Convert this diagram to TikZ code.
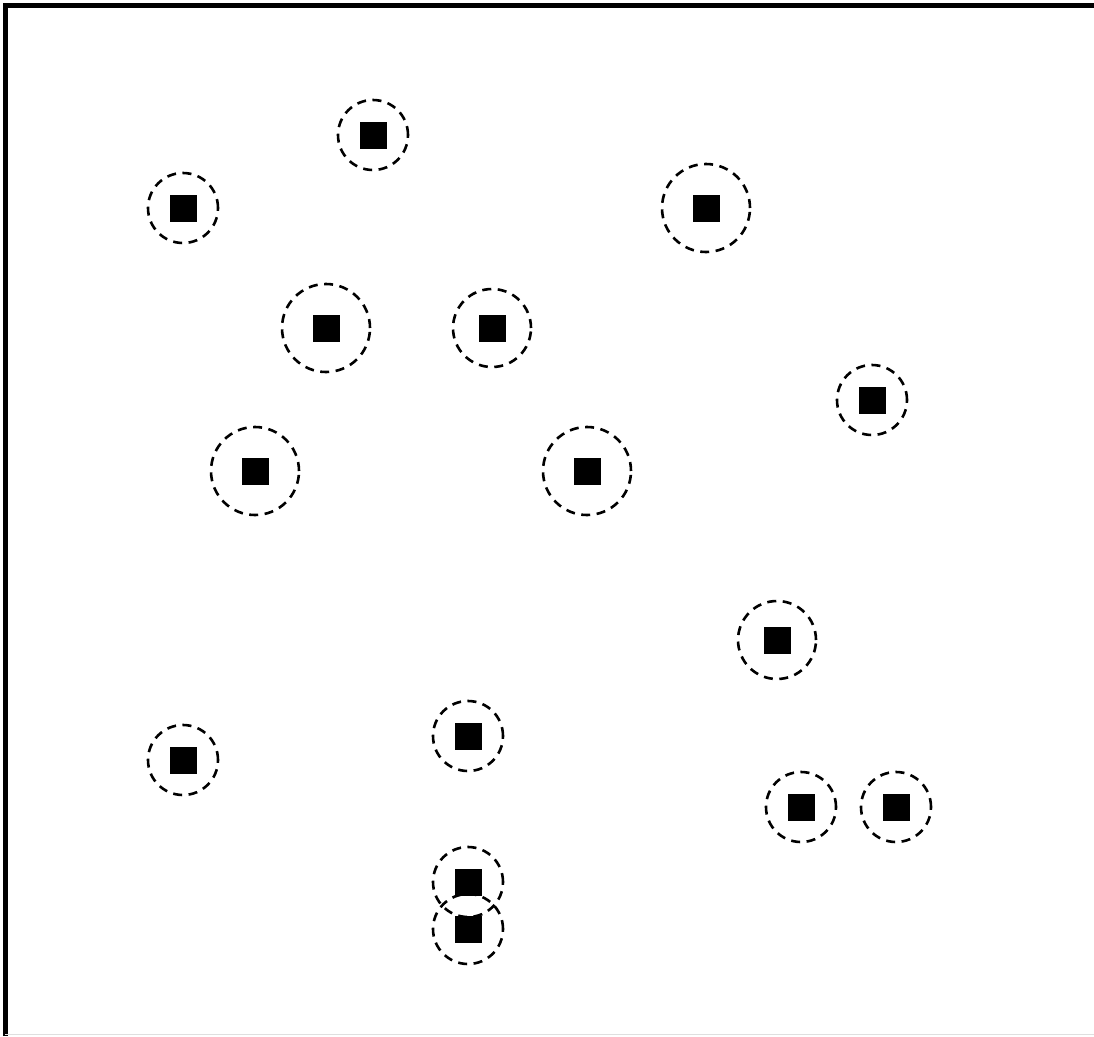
\documentclass[tikz,border=0pt]{standalone}
\begin{document}
\begin{tikzpicture}[x=1pt,y=-1pt,
  sq/.style={fill=black,draw=none,minimum size=27pt,inner sep=0pt,rectangle},
  ring/.style={draw=black,line width=2.6pt,dash pattern=on 9pt off 6.5pt,circle,inner sep=0pt,fill=none}]
\useasboundingbox (0,0) rectangle (1094,1036);
\fill[white] (0,0) rectangle (1094,1036);
% frame
\draw[line width=5pt] (5.5,1036) -- (5.5,5.5) -- (1094,5.5);
\draw[line width=1.5pt,gray!25] (5,1034.5) -- (1094,1034.5);
% points with dashed rings: name/x/y/radius
\foreach \n/\x/\y/\r in {a/373/135/35, b/183/208/35, c/706/208/44, d/326/328/44, e/492/328/39,
  f/872/400/35, g/255/471/44, h/587/471/44, i/777/640/39, j/468/736/35, k/183/760/35,
  l/801/807/35, m/896/807/35, n/468/882/35, o/468/929/35}{
  \node[ring,minimum size=2*\r pt] (r\n) at (\x,\y) {};
  \node[sq] (s\n) at (\x,\y) {};
}
\end{tikzpicture}
\end{document}
